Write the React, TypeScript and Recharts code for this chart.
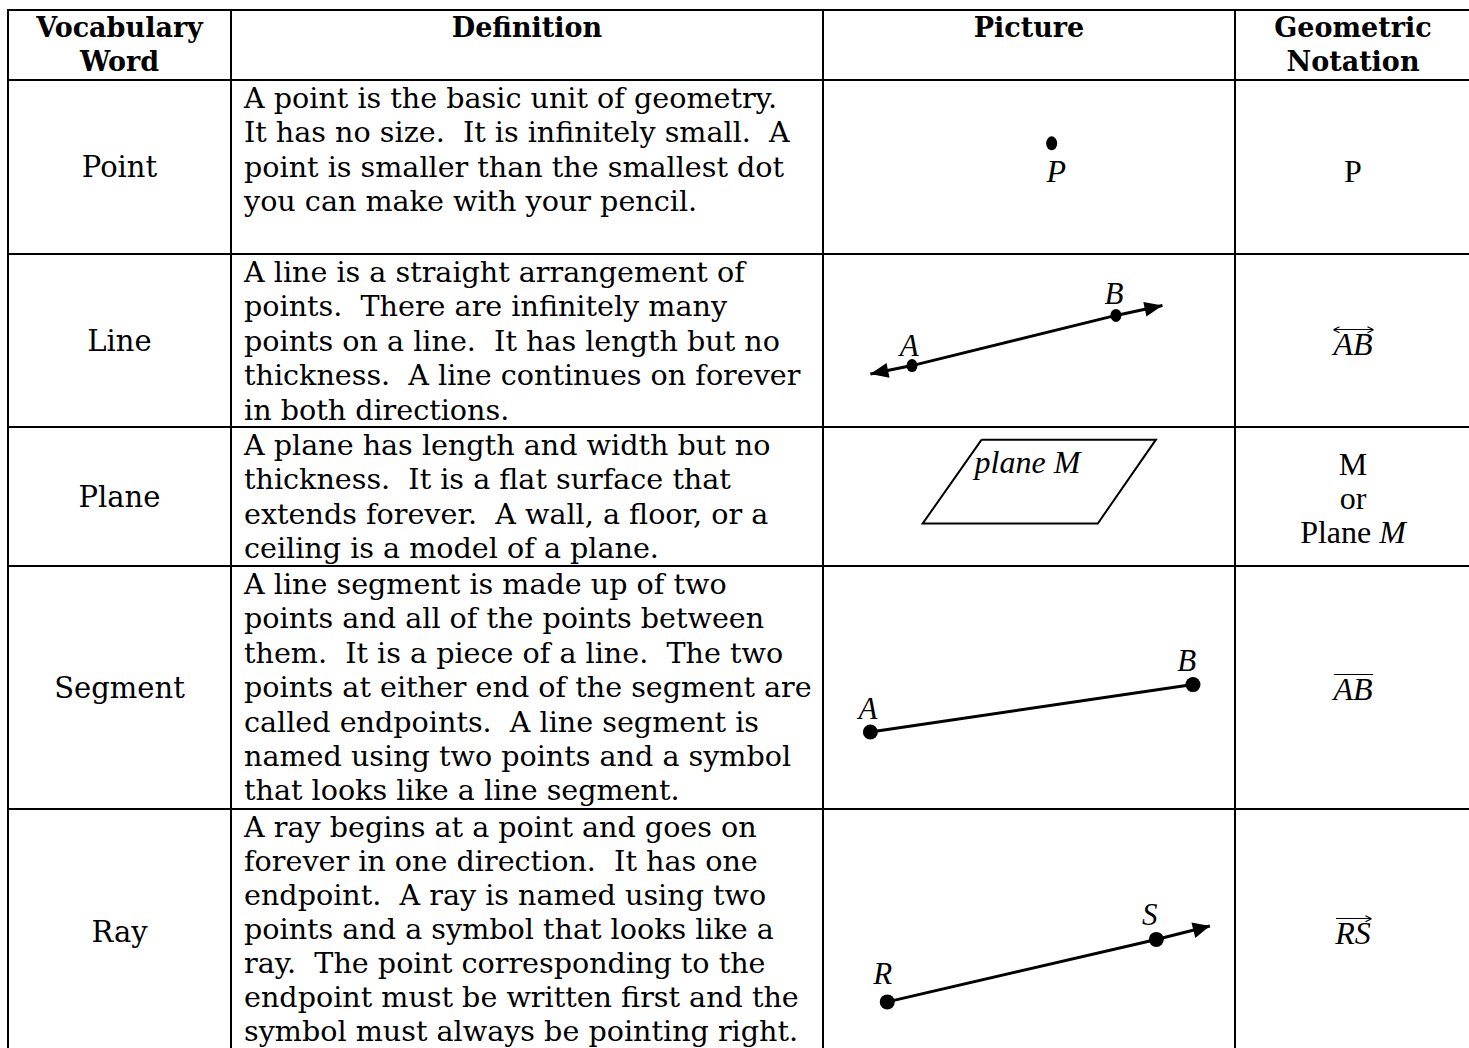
import React from 'react';
import { ScatterChart, Scatter, XAxis, YAxis } from 'recharts';

// ---------- text content ----------
const headerLabels: string[][] = [['Vocabulary', 'Word'], ['Definition'], ['Picture'], ['Geometric', 'Notation']];
const vocabularyWords = ['Point', 'Line', 'Plane', 'Segment', 'Ray'];

const definitionPoint = [
  'A point is the basic unit of geometry.',
  'It has no size.  It is infinitely small.  A',
  'point is smaller than the smallest dot',
  'you can make with your pencil.',
];
const definitionLine = [
  'A line is a straight arrangement of',
  'points.  There are infinitely many',
  'points on a line.  It has length but no',
  'thickness.  A line continues on forever',
  'in both directions.',
];
const definitionPlane = [
  'A plane has length and width but no',
  'thickness.  It is a flat surface that',
  'extends forever.  A wall, a floor, or a',
  'ceiling is a model of a plane.',
];
const definitionSegment = [
  'A line segment is made up of two',
  'points and all of the points between',
  'them.  It is a piece of a line.  The two',
  'points at either end of the segment are',
  'called endpoints.  A line segment is',
  'named using two points and a symbol',
  'that looks like a line segment.',
];
const definitionRay = [
  'A ray begins at a point and goes on',
  'forever in one direction.  It has one',
  'endpoint.  A ray is named using two',
  'points and a symbol that looks like a',
  'ray.  The point corresponding to the',
  'endpoint must be written first and the',
  'symbol must always be pointing right.',
];
const definitions = [definitionPoint, definitionLine, definitionPlane, definitionSegment, definitionRay];

// ---------- picture data (cell units: 0..100 each way, y up) ----------
type Pt = { x: number; y: number; label?: string };

const pointDots: Pt[] = [{ x: 55.5, y: 63.6 }];
const pointLabels: Pt[] = [{ x: 56.6, y: 47.9, label: 'P' }];

const linePath: Pt[] = [
  { x: 11.5, y: 30.6 },
  { x: 21.6, y: 35.5 },
  { x: 71.1, y: 64.5 },
  { x: 82.4, y: 70.2 },
];
const lineDots: Pt[] = [{ x: 21.6, y: 35.5 }, { x: 71.1, y: 64.5 }];
const lineTips: Pt[] = [{ x: 11.5, y: 30.6 }, { x: 82.4, y: 70.2 }];
const lineLabels: Pt[] = [{ x: 20.9, y: 47.1, label: 'A' }, { x: 70.6, y: 76.9, label: 'B' }];

const planeCorners: Pt[] = [
  { x: 38.5, y: 90.9 },
  { x: 80.8, y: 90.9 },
  { x: 66.7, y: 30.6 },
  { x: 24.2, y: 30.6 },
  { x: 38.5, y: 90.9 },
];
const planeLabels: Pt[] = [{ x: 36.8, y: 74.8, label: 'plane M' }];

const segmentPath: Pt[] = [{ x: 11.5, y: 31.7 }, { x: 89.8, y: 51.2 }];
const segmentLabels: Pt[] = [{ x: 10.9, y: 41.3, label: 'A' }, { x: 88.3, y: 61.3, label: 'B' }];

const rayPath: Pt[] = [{ x: 15.6, y: 21.9 }, { x: 80.9, y: 47.2 }, { x: 93.9, y: 52.6 }];
const rayDots: Pt[] = [{ x: 15.6, y: 21.9 }, { x: 80.9, y: 47.2 }];
const rayTips: Pt[] = [{ x: 93.9, y: 52.6 }];
const rayLabels: Pt[] = [{ x: 14.5, y: 33.6, label: 'R' }, { x: 79.3, y: 57.4, label: 'S' }];

// ---------- layout ----------
const COLS = [8, 231, 823, 1235, 1471];
const ROWS = [10, 80, 254, 427, 566, 809, 1056];
const LH = 34.0;
const BODY_FONT = '"DejaVu Serif", serif';
const MATH_FONT = '"Liberation Serif", "Times New Roman", serif';

const noShape = () => <g />;
const dotShape = (rx: number, ry: number) => (p: any) => (
  <ellipse cx={p.cx} cy={p.cy} rx={rx} ry={ry} fill="#000" />
);
const labelShape = (size: number, anchor: 'middle' | 'start' = 'middle') => (p: any) => (
  <text
    x={p.cx}
    y={p.cy}
    textAnchor={anchor}
    dominantBaseline="central"
    fontFamily={MATH_FONT}
    fontStyle="italic"
    fontSize={size}
    fill="#000"
  >
    {p.payload.label}
  </text>
);
const arrowShape = (w: number, h: number, path: Pt[], len: number, half: number) => (p: any) => {
  const idx = path.findIndex((q) => q.x === p.payload.x && q.y === p.payload.y);
  const nb = idx === 0 ? path[1] : path[idx - 1];
  const dx = ((p.payload.x - nb.x) * w) / 100;
  const dy = (-(p.payload.y - nb.y) * h) / 100;
  const d = Math.hypot(dx, dy) || 1;
  const ux = dx / d;
  const uy = dy / d;
  const bx = p.cx - ux * len;
  const by = p.cy - uy * len;
  const pts = `${p.cx},${p.cy} ${bx - uy * half},${by + ux * half} ${bx + uy * half},${by - ux * half}`;
  return <polygon points={pts} fill="#000" />;
};

function PictureCell({ row, render }: { row: number; render: (w: number, h: number) => React.ReactNode }) {
  const w = COLS[3] - COLS[2];
  const h = ROWS[row + 2] - ROWS[row + 1];
  return (
    <div style={{ position: 'absolute', left: COLS[2], top: ROWS[row + 1], width: w, height: h }}>
      <ScatterChart width={w} height={h} margin={{ top: 0, right: 0, bottom: 0, left: 0 }}>
        <XAxis type="number" dataKey="x" domain={[0, 100]} hide />
        <YAxis type="number" dataKey="y" domain={[0, 100]} hide />
        {render(w, h)}
      </ScatterChart>
    </div>
  );
}

function Over({ text, kind }: { text: string; kind: 'both' | 'right' | 'bar' }) {
  return (
    <span style={{ position: 'relative', display: 'inline-block', fontStyle: 'italic' }}>
      {text}
      <span style={{ position: 'absolute', left: 1, right: 0, top: 2, height: 1.5, background: '#000' }} />
      {kind === 'both' && (
        <svg width={7} height={8} style={{ position: 'absolute', left: 0, top: -1 }}>
          <path d="M0.5 3.75 L6.5 0.8 M0.5 3.75 L6.5 6.7" stroke="#000" strokeWidth={1.2} fill="none" />
        </svg>
      )}
      {kind !== 'bar' && (
        <svg width={7} height={8} style={{ position: 'absolute', right: -1, top: -1 }}>
          <path d="M6.5 3.75 L0.5 0.8 M6.5 3.75 L0.5 6.7" stroke="#000" strokeWidth={1.2} fill="none" />
        </svg>
      )}
    </span>
  );
}

export default function App() {
  const colW = (i: number) => COLS[i + 1] - COLS[i];
  const centered = (col: number, cy: number, content: React.ReactNode, font: string, size: number, key: string) => (
    <div
      key={key}
      style={{
        position: 'absolute',
        left: COLS[col],
        width: colW(col),
        top: cy - 17,
        lineHeight: '34px',
        textAlign: 'center',
        fontFamily: font,
        fontSize: size,
        whiteSpace: 'pre',
        color: '#000',
      }}
    >
      {content}
    </div>
  );

  const wordCenters = [167, 341, 497, 688, 932];

  return (
    <div
      style={{
        position: 'absolute',
        left: 0,
        top: 0,
        width: 1469,
        height: 1048,
        overflow: 'hidden',
        background: '#fff',
      }}
    >
      {/* header */}
      {headerLabels.map((lines, i) => (
        <div
          key={'h' + i}
          style={{
            position: 'absolute',
            left: COLS[i],
            width: colW(i),
            top: ROWS[0] + 1,
            lineHeight: '34.4px',
            textAlign: 'center',
            fontFamily: BODY_FONT,
            fontWeight: 'bold',
            fontSize: 27,
            color: '#000',
          }}
        >
          {lines.map((l) => (
            <div key={l}>{l}</div>
          ))}
        </div>
      ))}

      {/* vocabulary words */}
      {vocabularyWords.map((w, i) => centered(0, wordCenters[i], w, BODY_FONT, 29, 'w' + i))}

      {/* definitions */}
      {definitions.map((lines, i) => (
        <div
          key={'d' + i}
          style={{
            position: 'absolute',
            left: COLS[1] + 13,
            top: ROWS[i + 1] + 1,
            lineHeight: `${i === 4 ? LH : 34.4}px`,
            fontFamily: BODY_FONT,
            fontSize: 28.6,
            whiteSpace: 'pre',
            color: '#000',
          }}
        >
          {lines.map((l, j) => (
            <div key={j}>{l}</div>
          ))}
        </div>
      ))}

      {/* pictures */}
      <PictureCell
        row={0}
        render={() => [
          <Scatter key="d" data={pointDots} shape={dotShape(5.5, 7)} isAnimationActive={false} />,
          <Scatter key="l" data={pointLabels} shape={labelShape(32)} isAnimationActive={false} />,
        ]}
      />
      <PictureCell
        row={1}
        render={(w, h) => [
          <Scatter key="p" data={linePath} line={{ stroke: '#000', strokeWidth: 3 }} shape={noShape} isAnimationActive={false} />,
          <Scatter key="t" data={lineTips} shape={arrowShape(w, h, linePath, 18, 7.5)} isAnimationActive={false} />,
          <Scatter key="d" data={lineDots} shape={dotShape(5.5, 6.5)} isAnimationActive={false} />,
          <Scatter key="l" data={lineLabels} shape={labelShape(31)} isAnimationActive={false} />,
        ]}
      />
      <PictureCell
        row={2}
        render={() => [
          <Scatter key="p" data={planeCorners} line={{ stroke: '#000', strokeWidth: 2 }} shape={noShape} isAnimationActive={false} />,
          <Scatter key="l" data={planeLabels} shape={labelShape(32, 'start')} isAnimationActive={false} />,
        ]}
      />
      <PictureCell
        row={3}
        render={() => [
          <Scatter key="p" data={segmentPath} line={{ stroke: '#000', strokeWidth: 3 }} shape={dotShape(7.5, 7.5)} isAnimationActive={false} />,
          <Scatter key="l" data={segmentLabels} shape={labelShape(31)} isAnimationActive={false} />,
        ]}
      />
      <PictureCell
        row={4}
        render={(w, h) => [
          <Scatter key="p" data={rayPath} line={{ stroke: '#000', strokeWidth: 3 }} shape={noShape} isAnimationActive={false} />,
          <Scatter key="t" data={rayTips} shape={arrowShape(w, h, rayPath, 17, 8)} isAnimationActive={false} />,
          <Scatter key="d" data={rayDots} shape={dotShape(7.5, 7.5)} isAnimationActive={false} />,
          <Scatter key="l" data={rayLabels} shape={labelShape(31)} isAnimationActive={false} />,
        ]}
      />

      {/* notation */}
      {centered(3, 170.7, 'P', MATH_FONT, 32, 'n0')}
      {centered(3, 343.8, <Over text="AB" kind="both" />, MATH_FONT, 32, 'n1')}
      <div
        style={{
          position: 'absolute',
          left: COLS[3],
          width: colW(3),
          top: 463.8 - 17.2,
          lineHeight: '34.4px',
          textAlign: 'center',
          fontFamily: MATH_FONT,
          fontSize: 32,
          color: '#000',
        }}
      >
        <div>M</div>
        <div>or</div>
        <div>
          Plane <i>M</i>
        </div>
      </div>
      {centered(3, 688.7, <Over text="AB" kind="bar" />, MATH_FONT, 32, 'n3')}
      {centered(3, 932.7, <Over text="RS" kind="right" />, MATH_FONT, 32, 'n4')}

      {/* grid lines */}
      {ROWS.map((y, i) => (
        <div
          key={'hr' + i}
          style={{ position: 'absolute', left: COLS[0] - 1, width: COLS[4] - COLS[0] + 2, top: y - 1, height: 2, background: '#000' }}
        />
      ))}
      {COLS.map((x, i) => (
        <div
          key={'vr' + i}
          style={{ position: 'absolute', left: x - 1, width: 2, top: ROWS[0] - 1, height: ROWS[6] - ROWS[0] + 2, background: '#000' }}
        />
      ))}
    </div>
  );
}
